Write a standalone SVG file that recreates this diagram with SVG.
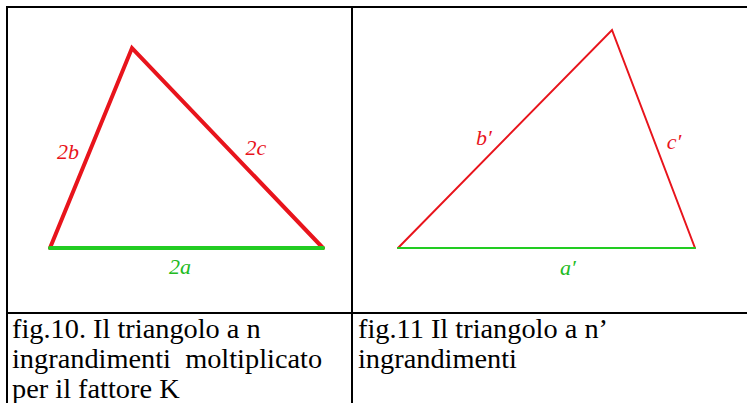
<svg xmlns="http://www.w3.org/2000/svg" width="747" height="403" viewBox="0 0 747 403">
<style>
.grid{stroke:#000;stroke-width:2;fill:none}
.red{stroke:#e8141c;fill:none;stroke-linejoin:miter;stroke-linecap:round}
.green{stroke:#22cc22;fill:none;stroke-linecap:round}
.lbl{font-family:"Liberation Serif",serif;font-style:italic;font-size:22px;text-anchor:middle}
.lr{fill:#e8141c}
.lg{fill:#22bb22}
.cap{font-family:"Liberation Serif","Times New Roman",serif;font-size:27px;fill:#000}
</style>
<rect width="747" height="403" fill="#fff"/>
<g id="table">
<line class="grid" x1="6" y1="7" x2="747" y2="7"/>
<line class="grid" x1="7" y1="7" x2="7" y2="403"/>
<line class="grid" x1="352" y1="7" x2="352" y2="403"/>
<line class="grid" x1="7" y1="313" x2="747" y2="313"/>
</g>
<g id="fig10">
<polyline class="red" stroke-width="4" points="50,248 132,48 323,248"/>
<line class="green" stroke-width="4" x1="50" y1="248" x2="323" y2="248"/>
<text class="lbl lr" x="68" y="159">2b</text>
<text class="lbl lr" x="256" y="155">2c</text>
<text class="lbl lg" x="180" y="274">2a</text>
</g>
<g id="fig11">
<polyline class="red" stroke-width="2" points="398,248 612,30 695,248"/>
<line class="green" stroke-width="2" x1="398" y1="248" x2="695" y2="248"/>
<text class="lbl lr" x="484" y="145">b′</text>
<text class="lbl lr" x="674" y="149">c′</text>
<text class="lbl lg" x="568" y="275">a′</text>
</g>
<g id="caption10" transform="translate(12,0) scale(1.05,1)">
<text class="cap" x="0" y="338">fig.10. Il triangolo a n</text>
<text class="cap" x="0" y="368" xml:space="preserve">ingrandimenti  moltiplicato</text>
<text class="cap" x="0" y="398">per il fattore K</text>
</g>
<g id="caption11" transform="translate(358,0) scale(1.05,1)">
<text class="cap" x="0" y="338">fig.11 Il triangolo a n’</text>
<text class="cap" x="0" y="368">ingrandimenti</text>
</g>
</svg>
